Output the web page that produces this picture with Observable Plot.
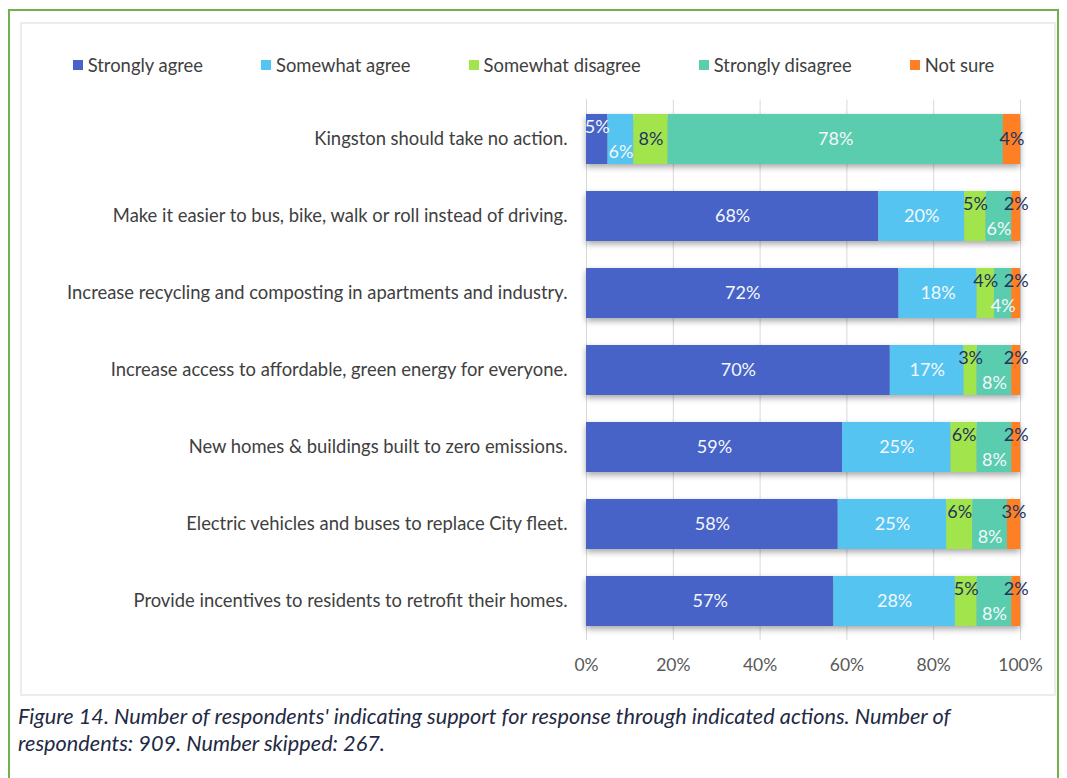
<!DOCTYPE html>
<html>
<head>
<meta charset="utf-8">
<script src="https://cdn.jsdelivr.net/npm/d3@7"></script>
<script src="https://cdn.jsdelivr.net/npm/@observablehq/plot@0.6"></script>
<style>
  body { margin: 0; background: #fff; font-family: Lato, "Open Sans", sans-serif; }
  #frame { position: absolute; left: 8px; top: 9px; width: 1051px; height: 800px; border: 2px solid #72b04b; box-sizing: border-box; }
  #inner { position: absolute; left: 20px; top: 22px; width: 1036px; height: 674px; border: 2px solid #ececec; box-sizing: border-box; }
  #legend { position: absolute; top: 54px; left: 0; width: 1067px; display: flex; justify-content: center; gap: 58px; font-size: 18.4px; color: #404040; padding-left: 0px; }
  #legend span.item { display: flex; align-items: center; white-space: nowrap; }
  #legend span.sw { display: inline-block; width: 10px; height: 10px; margin-right: 5px; }
  #chart { position: absolute; left: 20px; top: 95px; }
  #caption { position: absolute; left: 18px; top: 703px; font-style: italic; font-size: 21.7px; line-height: 27px; color: #1f2a44; width: 980px; }
</style>
</head>
<body>
<div id="frame"></div>
<div id="inner"></div>
<div id="legend"></div>
<div id="chart"></div>
<div id="caption">Figure 14. Number of respondents' indicating support for response through indicated actions. Number of respondents: 909. Number skipped: 267.</div>
<script>
const questions = [
  "Kingston should take no action.",
  "Make it easier to bus, bike, walk or roll instead of driving.",
  "Increase recycling and composting in apartments and industry.",
  "Increase access to affordable, green energy for everyone.",
  "New homes & buildings built to zero emissions.",
  "Electric vehicles and buses to replace City fleet.",
  "Provide incentives to residents to retrofit their homes."
];
const seriesNames = ["Strongly agree", "Somewhat agree", "Somewhat disagree", "Strongly disagree", "Not sure"];
const stronglyAgree    = [5, 68, 72, 70, 59, 58, 57];
const somewhatAgree    = [6, 20, 18, 17, 25, 25, 28];
const somewhatDisagree = [8, 5, 4, 3, 6, 6, 5];
const stronglyDisagree = [78, 6, 4, 8, 8, 8, 8];
const notSure          = [4, 2, 2, 2, 2, 3, 2];
const xTicks = [0, 20, 40, 60, 80, 100];

const colors = ["#4763c7", "#56c4f1", "#a2e44b", "#5acdae", "#fe7f24"];
const seriesValues = [stronglyAgree, somewhatAgree, somewhatDisagree, stronglyDisagree, notSure];

const data = [];
questions.forEach((q, qi) => {
  seriesNames.forEach((s, si) => {
    data.push({question: q, series: s, value: seriesValues[si][qi], qi, si});
  });
});

// label placement rule (dark labels for the disagree/not sure segments)
function place(d) {
  const small = d.value < 10;
  const sdSmall = stronglyDisagree[d.qi] < 10;
  if (d.si === 2 || d.si === 4) {
    return {color: "dark", pos: sdSmall ? "top" : "mid"};
  }
  if (!small) return {color: "light", pos: "mid"};
  if (d.si === 0) return {color: "light", pos: "top"};
  return {color: "light", pos: "bottom"};
}
const fills = {dark: "#1f3460", light: "#f4f7fb"};
const dys = {top: -12, mid: 0, bottom: 13};

const textMarks = [];
for (const c of ["dark", "light"]) {
  for (const p of ["top", "mid", "bottom"]) {
    textMarks.push(Plot.text(data, Plot.stackX({
      x: "value", y: "question", z: "series", order: seriesNames, offset: "normalize",
      text: d => { const pl = place(d); return (pl.color === c && pl.pos === p) ? d.value + "%" : ""; },
      fill: fills[c], dy: dys[p], fontSize: 18
    })));
  }
}

const chart = Plot.plot({
  width: 1036,
  height: 595,
  marginLeft: 566,
  marginRight: 36,
  marginTop: 4.5,
  marginBottom: 50,
  style: {fontFamily: "Lato, 'Open Sans', sans-serif", fontSize: "18.4px", background: "transparent"},
  x: {domain: [0, 1], ticks: xTicks.map(t => t / 100), tickFormat: d => Math.round(d * 100) + "%", label: null, tickSize: 0, tickPadding: 18},
  y: {domain: questions, label: null, tickSize: 0, tickPadding: 19, paddingInner: 0.352, paddingOuter: 0.176},
  color: {domain: seriesNames, range: colors},
  marks: [
    Plot.gridX(xTicks.map(t => t / 100), {stroke: "#d9d9d9", strokeOpacity: 1, strokeWidth: 1}),
    Plot.ruleX([0], {stroke: "#d9d9d9"}),
    Plot.barX(data, Plot.stackX({x: "value", y: "question", fill: "series", order: seriesNames, offset: "normalize", inset: 0})),
    ...textMarks
  ]
});
chart.querySelectorAll('[aria-label="y-axis tick label"]').forEach(el => el.setAttribute("fill", "#404040"));
chart.querySelectorAll('[aria-label="x-axis tick label"]').forEach(el => { el.setAttribute("fill", "#595959"); el.setAttribute("font-size", "17.5"); });
chart.querySelectorAll('[aria-label="bar"]').forEach(el => el.style.filter = "drop-shadow(0px 3px 3px rgba(0,0,0,0.35))");
document.getElementById("chart").appendChild(chart);

const legend = document.getElementById("legend");
seriesNames.forEach((s, i) => {
  const item = document.createElement("span");
  item.className = "item";
  item.innerHTML = `<span class="sw" style="background:${colors[i]}"></span>${s}`;
  legend.appendChild(item);
});
</script>
</body>
</html>
